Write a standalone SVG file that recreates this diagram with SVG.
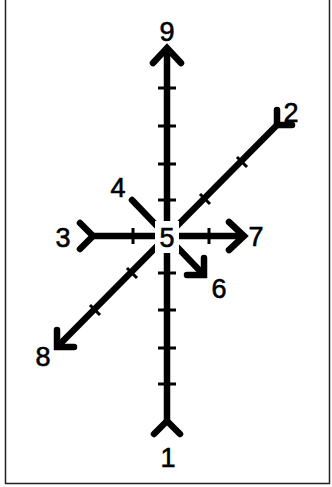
<svg xmlns="http://www.w3.org/2000/svg" width="332" height="487" viewBox="0 0 332 487">
<style>
.ax{stroke:#000;stroke-width:6.5;fill:none;stroke-linecap:round;stroke-linejoin:round}
.tk{stroke:#000;stroke-width:3;fill:none}
.hd{stroke:#000;stroke-width:6.5;fill:none;stroke-linecap:round;stroke-linejoin:miter}
.lb{font-family:"Liberation Sans",Arial,sans-serif;font-size:27px;fill:#000;stroke:#000;stroke-width:0.6;text-anchor:middle}
</style>
<rect x="0" y="0" width="332" height="487" fill="#fff"/>
<path d="M5.5 0V483.5H329.5V0" fill="none" stroke="#222" stroke-width="1.5"/>
<g id="connectors">
  <line class="ax" x1="167" y1="50" x2="167" y2="421"/>
  <line class="ax" x1="93" y1="236" x2="243" y2="236"/>
  <line class="ax" x1="277" y1="125" x2="59" y2="345"/>
  <line class="ax" x1="132" y1="200" x2="202" y2="273"/>
  <g class="tk">
    <path d="M158 88H176M158 126H176M158 164H176M158 200H176M158 273H176M158 310H176M158 348H176M158 384H176"/>
    <path d="M133 228V244M209 228V244"/>
    <path d="M237 157L247 167M200 194L210 204M127 268L137 278M90 305L100 315"/>
  </g>
  <polyline class="hd" points="153,63 167,48 181,63"/>
  <polyline class="hd" points="154,434 167,421 180,434"/>
  <polyline class="hd" points="80,223 93,236 80,249"/>
  <polyline class="hd" points="229,222 244,236 229,250"/>
  <polyline class="hd" points="277,110 277,125 292,125"/>
  <polyline class="hd" points="57,330 57,347 74,347"/>
  <polyline class="hd" points="204,258 204,275 187,275"/>
</g>
<g id="n5"><rect x="155" y="221" width="24" height="32" fill="#fff"/><text class="lb" x="167" y="247">5</text></g>
<g id="n9"><text class="lb" x="167" y="41">9</text></g>
<g id="n2"><text class="lb" x="291" y="122">2</text></g>
<g id="n4"><text class="lb" x="118" y="197">4</text></g>
<g id="n3"><text class="lb" x="63" y="247">3</text></g>
<g id="n7"><text class="lb" x="256" y="246">7</text></g>
<g id="n6"><text class="lb" x="219" y="298">6</text></g>
<g id="n8"><text class="lb" x="43" y="366">8</text></g>
<g id="n1"><text class="lb" x="168" y="467">1</text></g>
</svg>
